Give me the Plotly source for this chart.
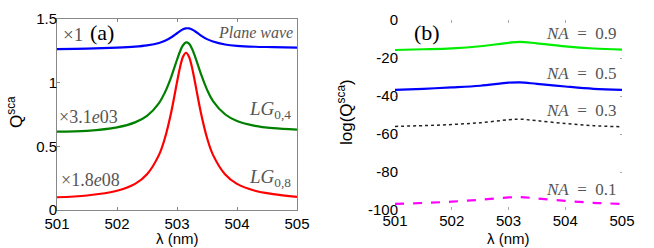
import plotly.graph_objects as go

# ---------------- data ----------------
wl_a = [501.0, 501.5, 502.0, 502.3, 502.5, 502.7, 502.8, 502.9, 503.0, 503.05, 503.1,
        503.15, 503.2, 503.25, 503.3, 503.4, 503.5, 503.6, 503.8, 504.0, 504.3, 504.6, 505.0]
plane_wave = [1.264, 1.267, 1.275, 1.283, 1.293, 1.312, 1.330, 1.355, 1.388, 1.405, 1.419,
              1.427, 1.426, 1.418, 1.404, 1.370, 1.342, 1.323, 1.300, 1.289, 1.282, 1.279, 1.275]
lg04 = [0.615, 0.622, 0.649, 0.688, 0.739, 0.840, 0.925, 1.040, 1.180, 1.245, 1.294,
        1.316, 1.307, 1.267, 1.207, 1.067, 0.945, 0.855, 0.752, 0.699, 0.661, 0.643, 0.632]
lg08 = [0.100, 0.114, 0.151, 0.205, 0.281, 0.433, 0.567, 0.760, 1.003, 1.119, 1.204,
        1.235, 1.204, 1.119, 1.003, 0.760, 0.567, 0.433, 0.281, 0.205, 0.151, 0.125, 0.103]

wl_b = [501.0, 501.5, 502.0, 502.5, 503.0, 503.2, 503.5, 504.0, 504.5, 505.0]
na09 = [-15.8, -15.4, -14.9, -13.8, -12.0, -11.5, -12.3, -13.9, -15.0, -15.6]
na05 = [-36.8, -36.2, -35.5, -34.6, -33.0, -32.8, -33.6, -35.0, -36.2, -36.8]
na03 = [-56.0, -55.6, -55.0, -54.1, -52.5, -52.2, -53.0, -54.5, -55.6, -56.2]
na01 = [-96.8, -96.3, -95.6, -94.6, -93.4, -93.2, -93.9, -95.2, -96.2, -96.8]

x_ticks = [501, 502, 503, 504, 505]
ya_ticks = [0, 0.5, 1, 1.5]
ya_labels = ["0", "0.5", "1", "1.5"]
yb_ticks = [0, -20, -40, -60, -80, -100]

W, H = 654, 248
SANS = "Liberation Sans, Arial, sans-serif"
SERIF = "Liberation Serif, Times New Roman, serif"
GRAY = "#555555"

fig = go.Figure()
# panel (a)
fig.add_trace(go.Scatter(x=wl_a, y=plane_wave, mode="lines", line=dict(color="#0000ff", width=2.2, shape="spline"),
                         xaxis="x", yaxis="y"))
fig.add_trace(go.Scatter(x=wl_a, y=lg04, mode="lines", line=dict(color="#008000", width=2.2, shape="spline"),
                         xaxis="x", yaxis="y"))
fig.add_trace(go.Scatter(x=wl_a, y=lg08, mode="lines", line=dict(color="#ff0000", width=2.2, shape="spline"),
                         xaxis="x", yaxis="y"))
# panel (b)
fig.add_trace(go.Scatter(x=wl_b, y=na09, mode="lines", line=dict(color="#00ee00", width=2.2, shape="spline"),
                         xaxis="x2", yaxis="y2"))
fig.add_trace(go.Scatter(x=wl_b, y=na05, mode="lines", line=dict(color="#0000ff", width=2.2, shape="spline"),
                         xaxis="x2", yaxis="y2"))
fig.add_trace(go.Scatter(x=wl_b, y=na03, mode="lines", line=dict(color="#222222", width=1.5, dash="dot", shape="spline"),
                         xaxis="x2", yaxis="y2"))
fig.add_trace(go.Scatter(x=wl_b, y=na01, mode="lines", line=dict(color="#ff00ff", width=2.2, dash="dash", shape="spline"),
                         xaxis="x2", yaxis="y2"))

def px2x(p):
    return p / W

def px2y(p):
    return 1 - p / H

ydom = [px2y(210), px2y(19)]
ydom2 = [px2y(210), px2y(20)]

axis_font = dict(family=SANS, size=15, color="black")
common_x = dict(range=[501, 505], tickvals=x_ticks, ticktext=[str(v) for v in x_ticks],
                ticks="inside", ticklen=3, tickfont=axis_font, showgrid=False, zeroline=False,
                automargin=False, ticklabelstandoff=0)
common_y = dict(ticks="inside", tickfont=axis_font, showgrid=False, zeroline=False,
                automargin=False, ticklabelstandoff=-4)

fig.update_layout(
    width=W, height=H, margin=dict(l=0, r=0, t=0, b=0, autoexpand=False),
    paper_bgcolor="white", plot_bgcolor="white", showlegend=False,
    xaxis=dict(domain=[px2x(57), px2x(297)], anchor="y", showline=True, linecolor="#888888",
               linewidth=1, mirror="ticks", tickcolor="#888888", **common_x),
    yaxis=dict(domain=ydom, anchor="x", range=[0, 1.5], tickvals=ya_ticks, ticktext=ya_labels,
               ticklen=3, tickcolor="#888888", showline=True, linecolor="#888888",
               linewidth=1, mirror=True, **common_y),
    xaxis2=dict(domain=[px2x(395), px2x(622)], anchor="y2", showline=False, mirror="ticks",
                tickcolor="#aaaaaa", **common_x),
    yaxis2=dict(domain=ydom2, anchor="x2", range=[-100, 0], tickvals=yb_ticks,
                ticktext=[str(v) for v in yb_ticks], ticklen=2, tickcolor="#aaaaaa",
                showline=False, mirror="ticks", **common_y),
)

def ann(text, x, y, xanchor="left", size=16, color=GRAY, family=SERIF, angle=0):
    fig.add_annotation(text=text, x=px2x(x), y=px2y(y), xref="paper", yref="paper",
                       xanchor=xanchor, yanchor="middle", showarrow=False, textangle=angle,
                       font=dict(family=family, size=size, color=color))

# axis titles
ann("λ (nm)", 177, 238, xanchor="center", size=15, color="black", family=SANS)
ann("λ (nm)", 508, 238, xanchor="center", size=15, color="black", family=SANS)
ann("Q<sup>sca</sup>", 15, 112, xanchor="center", size=17, color="black", family=SANS, angle=-90)
ann("log(Q<sup>sca</sup>)", 345, 112, xanchor="center", size=17, color="black", family=SANS, angle=-90)

SP = "\u2002"
ann("×1", 61, 34, size=19)
ann("(a)", 88, 32, size=22, color="black")
ann("<i>Plane wave</i>", 295, 32, xanchor="right", size=16)
ann("×3.1<i>e</i>03", 57, 117, size=18)
ann("<i>LG</i><sub>0,4</sub>", 293, 110, xanchor="right", size=19)
ann("×1.8<i>e</i>08", 59, 180, size=18)
ann("<i>LG</i><sub>0,8</sub>", 293, 178, xanchor="right", size=19)

ann("(b)", 412, 32, size=22, color="black")
ann(f"<i>NA</i>{SP}={SP}0.9", 619, 33, xanchor="right", size=17)
ann(f"<i>NA</i>{SP}={SP}0.5", 619, 73, xanchor="right", size=17)
ann(f"<i>NA</i>{SP}={SP}0.3", 619, 111, xanchor="right", size=17)
ann(f"<i>NA</i>{SP}={SP}0.1", 619, 189, xanchor="right", size=17)

fig.write_html("out.html", config={"displayModeBar": False},
               post_script="document.body.style.margin='0';")
